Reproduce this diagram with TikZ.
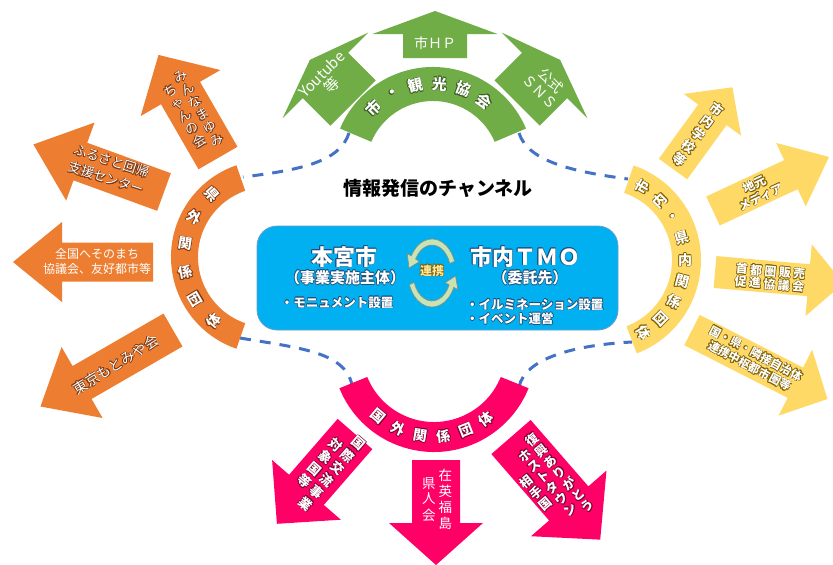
\documentclass[tikz,border=0pt]{standalone}
\usepackage{fontspec}
\setmainfont{Noto Sans CJK JP}
\usepackage{contour}
\contourlength{0.6pt}
\contournumber{8}
\usetikzlibrary{calc}
\definecolor{cgreen}{HTML}{70AD47}
\definecolor{corange}{HTML}{ED7D31}
\definecolor{cyellow}{HTML}{FFD966}
\definecolor{cpink}{HTML}{FF0066}
\definecolor{cbox}{HTML}{00B0F0}
\definecolor{cboxline}{HTML}{2E75B6}
\definecolor{cdash}{HTML}{4472C4}
\definecolor{ggreen}{HTML}{3B5E24}
\definecolor{gorange}{HTML}{7F3A12}
\definecolor{gyellow}{HTML}{806000}
\definecolor{gpink}{HTML}{7A0030}
\definecolor{gblue}{HTML}{1F4E79}
\definecolor{lnkfill}{HTML}{C9E3B5}
\definecolor{lnkline}{HTML}{8A8F7A}
\definecolor{lnktext}{HTML}{FFE699}
\newcommand\fs[2]{\fontsize{#1}{#2}\selectfont}
\newcommand\vt[1]{\begin{tabular}{@{}c@{}}#1\end{tabular}}
% color, tail x, tail y (px, down), angle, shaft length, shaft width, head length, head width
\newcommand\bigarrow[8]{\fill[#1,shift={(#2,-#3)},rotate=#4] (0,-#6/2) -- (#5,-#6/2) -- (#5,-#8/2) -- ({#5+#7},0) -- (#5,#8/2) -- (#5,#6/2) -- (0,#6/2) -- cycle;}
% color, cx, cy (px, down), a1, a2, Rout, Rin
\newcommand\bandarc[7]{\fill[#1,shift={(#2,-#3)}] (#4:#6) arc[start angle=#4,end angle=#5,radius=#6] -- (#5:#7) arc[start angle=#5,end angle=#4,radius=#7] -- cycle;}
\tikzset{
  dashline/.style={draw=cdash, line width=3pt, dash pattern=on 11pt off 9pt},
  wt/.style={text=white, inner sep=0pt},
  arcch/.style={text=white, inner sep=0pt, font=\fs{15}{15}\bfseries},
  boxst/.style={fill=cbox, draw=cboxline!70, line width=0.8pt, rounded corners=20pt, minimum width=361pt, minimum height=104pt, inner sep=0pt},
  lnk/.style={fill=lnkfill, draw=lnkline, line width=0.6pt}
}
\begin{document}
\begin{tikzpicture}[x=1pt,y=1pt]
\useasboundingbox (0,0) rectangle (833,-565);
\fill[white] (0,0) rectangle (833,-565);

% dashed connectors
\coordinate (gL) at (349,-133);
\coordinate (gR) at (519,-133);
\coordinate (oT) at (243,-177);
\coordinate (oB) at (240,-338);
\coordinate (yT) at (628,-179);
\coordinate (yB) at (632,-342);
\coordinate (pL) at (352,-385);
\coordinate (pR) at (519,-387);
\draw[dashline] (gL) .. controls (340,-162) and (300,-170) .. (oT);
\draw[dashline] (gR) .. controls (528,-162) and (575,-172) .. (yT);
\draw[dashline] (oB) .. controls (300,-348) and (345,-352) .. (pL);
\draw[dashline] (pR) .. controls (525,-358) and (575,-345) .. (yB);

% arcs
\bandarc{cgreen}{433}{168}{23}{157}{101}{67}
\bandarc{corange}{268}{257}{109}{251}{97}{70}
\bandarc{cyellow}{601}{260}{-69}{71}{100}{71}
\bandarc{cpink}{434}{350}{202}{338}{102}{72}

% arrows
\bigarrow{cgreen}{435}{58}{90}{24}{64}{23}{125}
\bigarrow{cgreen}{353}{103}{135}{39}{64}{22}{121}
\bigarrow{cgreen}{517}{103}{45}{39}{64}{22}{121}
\bigarrow{corange}{218}{158}{120}{75}{45}{44}{92}
\bigarrow{corange}{164}{192}{160}{89}{40}{50}{83}
\bigarrow{corange}{153}{262}{180}{91}{39}{49}{80}
\bigarrow{corange}{173}{330}{210}{105}{38}{48}{82}
\bigarrow{cyellow}{673}{169}{54}{67}{35}{34}{71}
\bigarrow{cyellow}{713}{211}{25}{86}{32}{42}{70}
\bigarrow{cyellow}{715}{272}{-5}{94}{32}{35}{72}
\bigarrow{cyellow}{692}{330}{-27}{116}{34}{36}{74}
\bigarrow{cpink}{436}{460}{270}{63}{48}{42}{94}
\bigarrow{cpink}{355}{434}{229}{74}{46}{45}{91}
\bigarrow{cpink}{511}{437}{311}{88}{52}{48}{100}

% arc texts
\foreach \ch [count=\i from 0] in {市,・,観,光,協,会} {
  \pgfmathsetmacro\ang{135-16.5*\i}
  \node[arcch, rotate=\ang-90] (ga\i) at ($(433,-168)+(\ang:84)$) {\contour{ggreen}{\ch}};
}
\foreach \ch [count=\i from 0] in {県,外,関,係,団,体} {
  \pgfmathsetmacro\ang{132+19.6*\i}
  \node[arcch, font=\fs{14}{14}\bfseries, rotate=\ang-180] (oa\i) at ($(268,-257)+(\ang:84)$) {\contour{gorange}{\ch}};
}
\foreach \ch [count=\i from 0] in {市,内,・,県,内,関,係,団,体} {
  \pgfmathsetmacro\ang{60-15*\i}
  \node[arcch, font=\fs{14}{14}\bfseries, rotate=\ang] (ya\i) at ($(601,-260)+(\ang:84)$) {\contour{gyellow}{\ch}};
}
\foreach \ch [count=\i from 0] in {国,外,関,係,団,体} {
  \pgfmathsetmacro\ang{230+15.4*\i}
  \node[arcch, font=\fs{14}{14}\bfseries, rotate=\ang-270] (pa\i) at ($(434,-350)+(\ang:87)$) {\contour{gpink}{\ch}};
}

% green arrow texts
\node[wt, font=\fs{14}{16}] (tHP) at (435,-43) {市ＨＰ};
\node[wt, align=center, rotate=45, font=\fs{15}{15}] (tYT) at (327,-80) {Youtube\\等};
\node[wt, align=center, rotate=-45, font=\fs{14}{16}] (tSNS) at (546,-86) {公式\\ＳＮＳ};

% orange arrow texts
\node[wt, rotate=30, font=\fs{13}{14.5}] (tMM) at (193,-114) {\contour{gorange}{\vt{ち\\ゃ\\ん\\の\\会}}\hspace{3pt}\contour{gorange}{\vt{み\\ん\\な\\ま\\ゆ\\み}}};
\node[wt, rotate=-18, align=center, font=\fs{13}{18}] (tFR) at (109,-170) {\contour{gorange}{ふるさと回帰}\\\contour{gorange}{支援センター}};
\node[wt, align=center, font=\fs{12}{15}] (tZK) at (97,-261) {全国へそのまち\\協議会、友好都市等};
\node[wt, rotate=32, font=\fs{14}{16}] (tTK) at (116,-365) {\contour{gorange}{東京もとみや会}};

% yellow arrow texts
\node[wt, rotate=-37, font=\fs{13}{15}\bfseries] (tSG) at (697,-136) {\contour{gyellow}{\vt{市\\内\\学\\校\\等}}};
\node[wt, rotate=25, align=center, font=\fs{12}{14}\bfseries] (tJM) at (758,-191) {\contour{gyellow}{地元}\\\contour{gyellow}{メディア}};
\node[wt, rotate=-5, align=center, font=\fs{12}{13}\bfseries\addfontfeatures{LetterSpace=20}] (tSH) at (770,-278) {\contour{gyellow}{首都圏販売}\\\contour{gyellow}{促進協議会}};
\node[wt, rotate=-28, align=center, font=\fs{11.5}{14}\bfseries] (tKK) at (753,-360) {\contour{gyellow}{国・県・隣接自治体}\\\contour{gyellow}{連携中枢都市圏等}};

% pink arrow texts
\node[wt, font=\fs{13.5}{15.7}] (tZE) at (437,-501) {\vt{県\\人\\会}\hspace{3pt}\vt{在\\英\\福\\島}};
\node[wt, rotate=-41, font=\fs{13}{16}\bfseries] (tKS) at (325,-470) {\contour{gpink}{\vt{対\\象\\国\\等}}\hspace{3pt}\contour{gpink}{\vt{国\\際\\交\\流\\事\\業}}};
\node[wt, rotate=40, font=\fs{12.5}{13.6}\bfseries] (tFK) at (549,-484) {\contour{gpink}{\vt{相\\手\\国}}\hspace{3pt}\contour{gpink}{\vt{ホ\\ス\\ト\\タ\\ウ\\ン}}\hspace{3pt}\contour{gpink}{\vt{復\\興\\あ\\り\\が\\と\\う}}};

% title
\node[font=\fs{19}{21}\bfseries, inner sep=0pt] (title) at (438,-188) {情報発信のチャンネル};

% center box
\node[boxst] (box) at (437.5,-278) {};
\node[wt, font=\fs{22}{24}\bfseries] (hm) at (344,-257) {\contour{gblue}{本宮市}};
\node[wt, font=\fs{15}{17}\bfseries] (hm2) at (345,-278) {\contour{gblue}{（事業実施主体）}};
\node[wt, font=\fs{12.5}{14}\bfseries] (hm3) at (337,-303) {\contour{gblue}{・モニュメント設置}};
\node[wt, font=\fs{22}{24}\bfseries] (tmo) at (525,-257) {\contour{gblue}{市内ＴＭＯ}};
\node[wt, font=\fs{15}{17}\bfseries] (tmo2) at (530,-278) {\contour{gblue}{（委託先）}};
\node[wt, font=\fs{12.5}{14}\bfseries, anchor=west] (tmo3) at (466,-305) {\contour{gblue}{・イルミネーション設置}};
\node[wt, font=\fs{12.5}{14}\bfseries, anchor=west] (tmo4) at (466,-319) {\contour{gblue}{・イベント運営}};

% link arrows
\begin{scope}[shift={(432,-273)}]
\filldraw[lnk] (20:24 and 34) arc[start angle=20,end angle=150,x radius=24,y radius=34] -- (150:28.5 and 39) -- (-23,5) -- (150:14.5 and 23) -- (150:19 and 28) arc[start angle=150,end angle=20,x radius=19,y radius=28] -- cycle;
\filldraw[lnk] (200:24 and 34) arc[start angle=200,end angle=335,x radius=24,y radius=34] -- (335:28.5 and 39) -- (23.5,-3) -- (335:14.5 and 23) -- (335:19 and 28) arc[start angle=335,end angle=200,x radius=19,y radius=28] -- cycle;
\end{scope}
\node[text=lnktext, inner sep=0pt, font=\fs{12}{13}\bfseries] (rk) at (432,-271) {\contour{gyellow}{連携}};
\end{tikzpicture}
\end{document}
